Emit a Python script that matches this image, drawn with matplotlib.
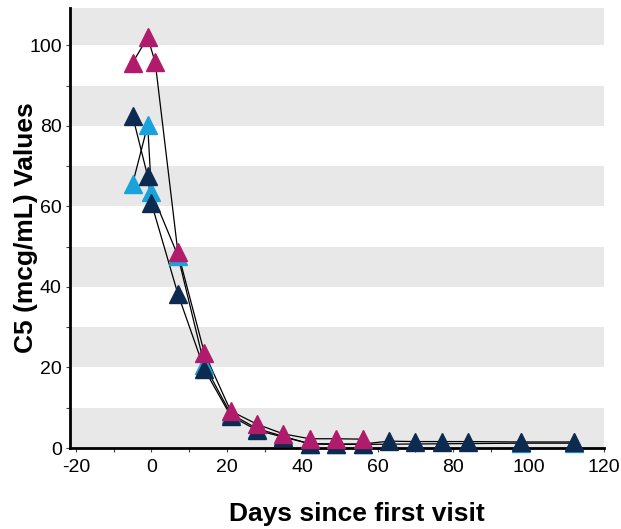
import matplotlib
matplotlib.use("Agg")
import matplotlib.pyplot as plt
from matplotlib.ticker import MultipleLocator

plt.rcParams["font.family"] = ["Liberation Sans", "DejaVu Sans"]
plt.rcParams["axes.unicode_minus"] = False

# days since first visit / C5 values, one list pair per subject
blue_days = [-5, -1, 0, 7, 14, 21, 28, 35, 42, 49, 56, 98, 112]
blue_vals = [65.6, 80.2, 63.6, 47.8, 20.7, 8.5, 4.8, 2.9, 1.0, 0.9, 0.9, 1.2, 1.2]

navy_days = [-5, -1, 0, 7, 14, 21, 28, 35, 42, 49, 56, 63, 70, 77, 84, 98, 112]
navy_vals = [82.5, 67.5, 60.8, 38.3, 19.6, 8.0, 4.4, 2.7, 1.1, 1.0, 1.0, 1.7, 1.6, 1.6, 1.6, 1.5, 1.5]

pink_days = [-5, -1, 1, 7, 14, 21, 28, 35, 42, 49, 56]
pink_vals = [95.7, 102.0, 95.8, 48.7, 23.7, 9.2, 5.9, 3.5, 2.3, 2.3, 2.2]

series = [
    (blue_days, blue_vals, "#1aa3da"),
    (navy_days, navy_vals, "#0d2a50"),
    (pink_days, pink_vals, "#b01c6b"),
]

fig = plt.figure(figsize=(6.21, 5.29), dpi=100)
ax = fig.add_axes([0.1127, 0.1531, 0.86, 0.8318])

# alternating grey bands
for lo in range(0, 110, 20):
    ax.axhspan(lo, lo + 10, color="#e8e8e8", lw=0, zorder=0)

for x, y, c in series:
    ax.plot(x, y, color="black", lw=0.9, zorder=2)
for x, y, c in series:
    ax.plot(x, y, ls="none", marker="^", ms=13, color=c, mec=c,
            zorder=3, clip_on=False)

ax.set_xlim(-21.6, 120)
ax.set_ylim(0, 109.3)
ax.xaxis.set_major_locator(MultipleLocator(20))
ax.xaxis.set_minor_locator(MultipleLocator(10))
ax.yaxis.set_major_locator(MultipleLocator(20))
ax.yaxis.set_minor_locator(MultipleLocator(10))
ax.tick_params(which="both", direction="out", length=3, width=0.8,
               color="#444444", labelsize=14)
ax.tick_params(axis="x", pad=5)
ax.tick_params(axis="y", pad=3)

for s in ["top", "right"]:
    ax.spines[s].set_visible(False)
for s in ["left", "bottom"]:
    ax.spines[s].set_linewidth(2)
    ax.spines[s].set_zorder(2.5)

ax.set_xlabel("Days since first visit", fontsize=19, fontweight="bold",
              va="top")
ax.xaxis.set_label_coords(0.538, -0.122)
ax.set_ylabel("C5 (mcg/mL) Values", fontsize=19, fontweight="bold")
ax.yaxis.set_label_coords(-0.06, 0.5)

fig.savefig("out.png", dpi=100)
